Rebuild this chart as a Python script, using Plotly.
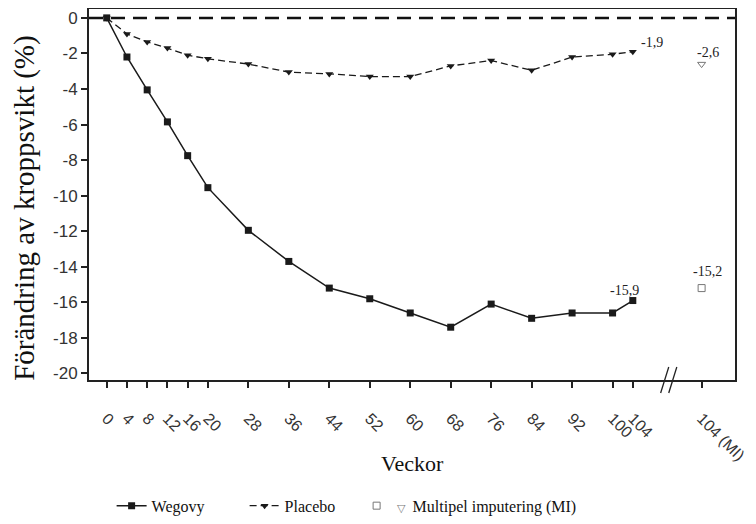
import plotly.graph_objects as go

weeks = [0, 4, 8, 12, 16, 20, 28, 36, 44, 52, 60, 68, 76, 84, 92, 100, 104]
wegovy = [0, -2.2, -4.05, -5.85, -7.75, -9.55, -11.95, -13.7, -15.2, -15.8,
          -16.6, -17.4, -16.1, -16.9, -16.6, -16.6, -15.9]
placebo = [0, -0.9, -1.35, -1.7, -2.1, -2.3, -2.6, -3.05, -3.15, -3.3,
           -3.3, -2.7, -2.4, -2.95, -2.2, -2.05, -1.9]
mi_pos = 117.6
mi_wegovy = -15.2
mi_placebo = -2.6
x_tick_vals = weeks + [mi_pos]
x_tick_text = [str(w) for w in weeks] + ["104 (MI)"]
y_tick_vals = list(range(0, -21, -2))
y_tick_text = [str(v) for v in y_tick_vals]
break_pos = [110.3, 111.9]
x_title = "Veckor"
y_title = "Förändring av kroppsvikt (%)"

SERIF = "Liberation Serif"
SANS = "Liberation Sans"

fig = go.Figure()
fig.add_trace(go.Scatter(
    x=weeks, y=wegovy, name="Wegovy", mode="lines+markers",
    line=dict(color="#1a1a1a", width=1.5),
    marker=dict(symbol="square", size=7, color="#1a1a1a"),
    legendwidth=88,
))
fig.add_trace(go.Scatter(
    x=weeks, y=placebo, name="Placebo", mode="lines+markers",
    line=dict(color="#1a1a1a", width=1.3, dash="7px,4px"),
    marker=dict(symbol="triangle-down", size=7, color="#1a1a1a"),
    legendwidth=67,
))
fig.add_trace(go.Scatter(
    x=[mi_pos], y=[mi_wegovy],
    name="<span style='color:#777777;font-size:11px'>▽</span>  Multipel imputering (MI)",
    mode="markers", legendgroup="mi",
    marker=dict(symbol="square-open", size=7, color="#777777", line=dict(width=1)),
))
fig.add_trace(go.Scatter(
    x=[mi_pos], y=[mi_placebo], name="Multipel imputering (MI)", mode="markers",
    legendgroup="mi", showlegend=False,
    marker=dict(symbol="triangle-down-open", size=7, color="#777777", line=dict(width=1)),
))

# zero reference line
fig.add_shape(type="line", xref="paper", x0=0, x1=1, yref="y", y0=0, y1=0,
              line=dict(color="#111111", width=2.5, dash="14px,8px"), layer="above")

# axis break marks
for bx in break_pos:
    fig.add_shape(type="line", xref="x", yref="paper",
                  x0=bx - 0.8, x1=bx + 0.8, y0=-0.035, y1=0.035,
                  line=dict(color="#222222", width=1.3))

# value labels
ann_font = dict(family=SERIF, size=14, color="#222222")
fig.add_annotation(x=weeks[-1], y=placebo[-1], text="-1,9", showarrow=False,
                   xshift=19, yshift=9, font=ann_font)
fig.add_annotation(x=weeks[-1], y=wegovy[-1], text="-15,9", showarrow=False,
                   xshift=-8, yshift=10, font=ann_font)
fig.add_annotation(x=mi_pos, y=mi_placebo, text="-2,6", showarrow=False,
                   xshift=6, yshift=12, font=ann_font)
fig.add_annotation(x=mi_pos, y=mi_wegovy, text="-15,2", showarrow=False,
                   xshift=6, yshift=17, font=ann_font)

# axis titles
fig.add_annotation(xref="paper", yref="paper", x=0, y=0.464, xshift=-64,
                   text=y_title, textangle=-90, showarrow=False,
                   xanchor="center", yanchor="middle",
                   font=dict(family=SERIF, size=29, color="#111111"))
fig.add_annotation(xref="paper", yref="paper", x=0.5, y=-0.224,
                   text=x_title, showarrow=False,
                   xanchor="center", yanchor="middle",
                   font=dict(family=SERIF, size=22, color="#111111"))

fig.update_layout(
    width=748, height=516,
    margin=dict(l=81, r=21, t=1, b=140),
    paper_bgcolor="white", plot_bgcolor="white",
    showlegend=True,
    legend=dict(orientation="h", x=0.035, xanchor="left", y=-0.339, yanchor="middle",
                font=dict(family=SERIF, size=16, color="#111111"),
                traceorder="normal"),
    xaxis=dict(
        range=[-3.5, 124.2], tickmode="array", tickvals=x_tick_vals, ticktext=x_tick_text,
        tickangle=45, ticks="outside", ticklen=6, tickwidth=1.5, tickcolor="#222222",
        tickfont=dict(family=SANS, size=16, color="#333333"),
        ticklabelstandoff=15, automargin=False,
        showline=True, linecolor="#222222", linewidth=2, mirror=True,
        showgrid=False, zeroline=False,
    ),
    yaxis=dict(
        range=[-20.37, 0.5], tickmode="array", tickvals=y_tick_vals, ticktext=y_tick_text,
        ticks="outside", ticklen=6, tickwidth=1.5, tickcolor="#222222",
        tickfont=dict(family=SANS, size=17, color="#333333"),
        automargin=False,
        showline=True, linecolor="#222222", linewidth=2, mirror=True,
        showgrid=False, zeroline=False,
    ),
)

fig.write_html("out.html")
